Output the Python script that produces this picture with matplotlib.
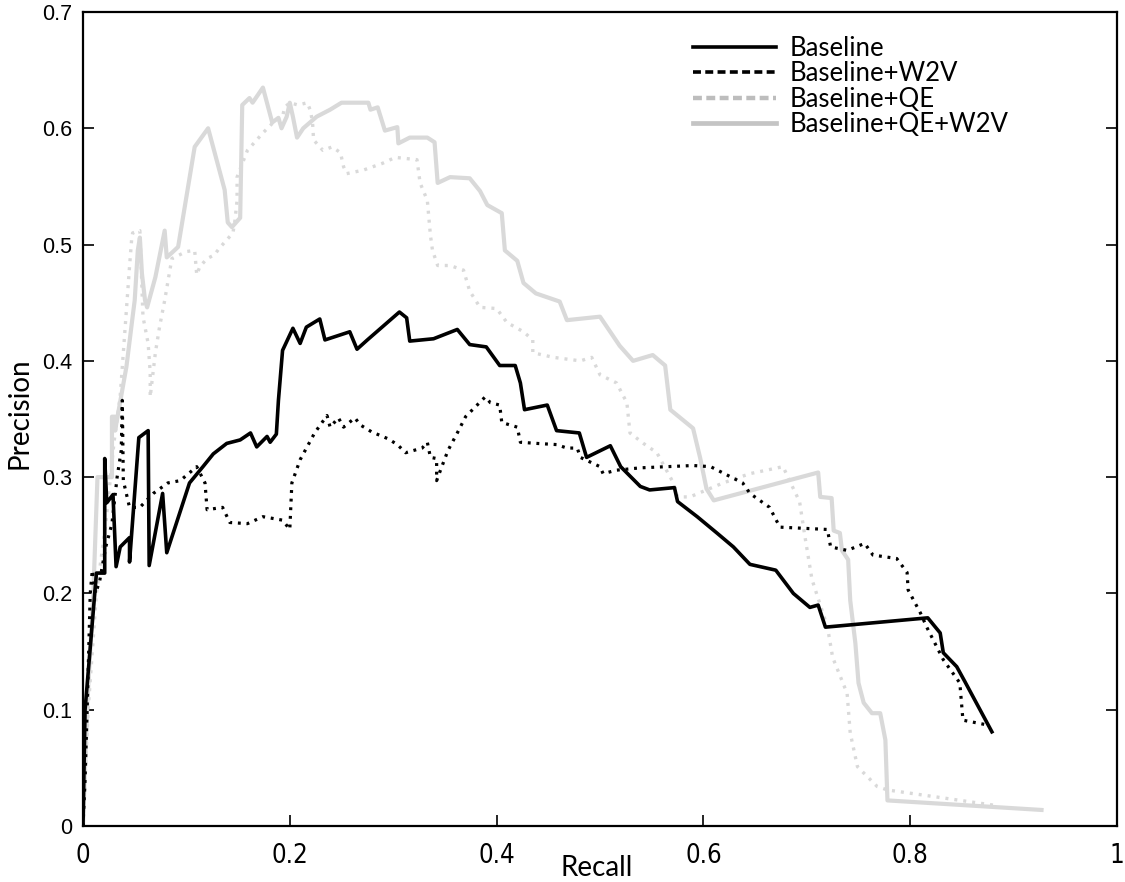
import matplotlib
matplotlib.use("Agg")
import matplotlib.pyplot as plt
from matplotlib.lines import Line2D

# ---------------- data ----------------
baseline_x = [0, 0.002, 0.013, 0.021, 0.021, 0.023, 0.029, 0.032, 0.036, 0.045, 0.045, 0.054, 0.063,
              0.064, 0.077, 0.081, 0.103, 0.116, 0.126, 0.139, 0.152, 0.162, 0.168, 0.178, 0.181, 0.187,
              0.189, 0.193, 0.203, 0.21, 0.216, 0.229, 0.234, 0.258, 0.265, 0.275, 0.306, 0.313, 0.316,
              0.339, 0.362, 0.374, 0.39, 0.403, 0.418, 0.423, 0.427, 0.449, 0.458, 0.48, 0.487, 0.51,
              0.52, 0.539, 0.548, 0.572, 0.575, 0.594, 0.613, 0.629, 0.645, 0.67, 0.687, 0.703, 0.711,
              0.718, 0.817, 0.829, 0.832, 0.845, 0.853, 0.879]
baseline_y = [0, 0.1, 0.2175, 0.2175, 0.316, 0.278, 0.285, 0.223, 0.24, 0.248, 0.227, 0.334, 0.34,
              0.224, 0.286, 0.235, 0.295, 0.309, 0.32, 0.329, 0.332, 0.338, 0.326, 0.335, 0.33, 0.337,
              0.366, 0.409, 0.428, 0.415, 0.429, 0.436, 0.418, 0.425, 0.41, 0.418, 0.442, 0.437, 0.417,
              0.419, 0.427, 0.414, 0.412, 0.396, 0.396, 0.381, 0.358, 0.362, 0.34, 0.338, 0.317, 0.327,
              0.309, 0.292, 0.289, 0.291, 0.279, 0.266, 0.252, 0.24, 0.225, 0.22, 0.2, 0.188, 0.19,
              0.171, 0.179, 0.166, 0.149, 0.137, 0.124, 0.081]

w2v_x = [0, 0.002, 0.004, 0.007, 0.009, 0.012, 0.016, 0.022, 0.028, 0.033, 0.037, 0.038, 0.039, 0.045,
         0.055, 0.068, 0.082, 0.094, 0.11, 0.118, 0.12, 0.135, 0.142, 0.159, 0.174, 0.193, 0.2, 0.202,
         0.21, 0.224, 0.236, 0.239, 0.247, 0.252, 0.263, 0.268, 0.279, 0.295, 0.304, 0.312, 0.328,
         0.333, 0.336, 0.342, 0.342, 0.347, 0.353, 0.362, 0.37, 0.389, 0.394, 0.403, 0.405, 0.42,
         0.423, 0.439, 0.458, 0.468, 0.478, 0.481, 0.5, 0.503, 0.516, 0.539, 0.59, 0.607, 0.638,
         0.645, 0.664, 0.674, 0.72, 0.723, 0.739, 0.756, 0.764, 0.787, 0.797, 0.798, 0.81, 0.816,
         0.832, 0.848, 0.851, 0.874]
w2v_y = [0, 0.04, 0.1, 0.2, 0.22, 0.2, 0.21, 0.24, 0.26, 0.3, 0.323, 0.366, 0.297, 0.274,
         0.274, 0.286, 0.295, 0.297, 0.309, 0.295, 0.272, 0.274, 0.261, 0.26, 0.266, 0.263, 0.255, 0.295,
         0.315, 0.338, 0.353, 0.343, 0.351, 0.343, 0.351, 0.345, 0.339, 0.333, 0.328, 0.321, 0.325,
         0.33, 0.317, 0.316, 0.297, 0.309, 0.323, 0.338, 0.352, 0.369, 0.364, 0.362, 0.347, 0.343,
         0.33, 0.329, 0.328, 0.325, 0.325, 0.317, 0.309, 0.303, 0.306, 0.308, 0.31, 0.309, 0.295,
         0.286, 0.274, 0.257, 0.255, 0.24, 0.237, 0.243, 0.233, 0.23, 0.218, 0.203, 0.183, 0.171,
         0.143, 0.123, 0.091, 0.087]

qe_x = [0, 0.005, 0.013, 0.022, 0.03, 0.036, 0.039, 0.042, 0.045, 0.047, 0.048, 0.055, 0.058, 0.063,
        0.065, 0.065, 0.07, 0.074, 0.079, 0.084, 0.086, 0.1, 0.108, 0.11, 0.113, 0.12, 0.127, 0.132,
        0.139, 0.145, 0.147, 0.149, 0.149, 0.159, 0.165, 0.174, 0.184, 0.193, 0.195, 0.2, 0.208, 0.217,
        0.22, 0.222, 0.223, 0.232, 0.241, 0.249, 0.252, 0.255, 0.271, 0.29, 0.302, 0.323, 0.326,
        0.333, 0.336, 0.338, 0.343, 0.355, 0.368, 0.374, 0.384, 0.4, 0.41, 0.426, 0.435, 0.435,
        0.455, 0.481, 0.492, 0.5, 0.516, 0.526, 0.529, 0.542, 0.555, 0.571, 0.575, 0.587, 0.619,
        0.645, 0.677, 0.686, 0.693, 0.698, 0.705, 0.72, 0.725, 0.739, 0.742, 0.749, 0.768, 0.778, 0.88]
qe_y = [0, 0.1, 0.2, 0.26, 0.33, 0.37, 0.407, 0.444, 0.481, 0.504, 0.51, 0.512, 0.438, 0.415,
        0.39, 0.369, 0.407, 0.429, 0.452, 0.478, 0.488, 0.494, 0.495, 0.474, 0.481, 0.488, 0.491, 0.497,
        0.504, 0.51, 0.521, 0.538, 0.558, 0.581, 0.587, 0.596, 0.605, 0.61, 0.618, 0.622, 0.62, 0.622,
        0.615, 0.605, 0.59, 0.581, 0.584, 0.579, 0.567, 0.561, 0.564, 0.57, 0.575, 0.573, 0.553,
        0.538, 0.508, 0.495, 0.482, 0.482, 0.478, 0.46, 0.446, 0.445, 0.433, 0.425, 0.418, 0.407,
        0.403, 0.4, 0.403, 0.388, 0.381, 0.364, 0.338, 0.329, 0.321, 0.295, 0.283, 0.283, 0.295,
        0.303, 0.309, 0.292, 0.279, 0.25, 0.212, 0.171, 0.145, 0.114, 0.08, 0.051, 0.034, 0.031, 0.018]

qew2v_x = [0, 0.004, 0.01, 0.014, 0.028, 0.028, 0.031, 0.031, 0.042, 0.048, 0.05, 0.053, 0.055, 0.057,
           0.06, 0.062, 0.07, 0.079, 0.081, 0.086, 0.092, 0.108, 0.121, 0.137, 0.14, 0.144, 0.152,
           0.154, 0.161, 0.164, 0.174, 0.183, 0.189, 0.192, 0.197, 0.2, 0.203, 0.207, 0.213, 0.226,
           0.239, 0.25, 0.276, 0.278, 0.285, 0.292, 0.304, 0.305, 0.316, 0.333, 0.34, 0.343, 0.355,
           0.374, 0.384, 0.391, 0.405, 0.408, 0.42, 0.426, 0.438, 0.461, 0.468, 0.5, 0.519, 0.532,
           0.551, 0.563, 0.568, 0.59, 0.597, 0.603, 0.61, 0.711, 0.713, 0.724, 0.726, 0.732, 0.734,
           0.74, 0.742, 0.747, 0.75, 0.755, 0.763, 0.771, 0.776, 0.778, 0.927]
qew2v_y = [0, 0.102, 0.2, 0.3, 0.3, 0.352, 0.352, 0.34, 0.395, 0.438, 0.452, 0.495, 0.506, 0.475,
           0.452, 0.446, 0.472, 0.512, 0.489, 0.493, 0.498, 0.584, 0.6, 0.547, 0.519, 0.515, 0.523,
           0.62, 0.626, 0.622, 0.635, 0.605, 0.609, 0.6, 0.61, 0.622, 0.61, 0.592, 0.6, 0.61,
           0.616, 0.622, 0.622, 0.616, 0.618, 0.598, 0.601, 0.587, 0.592, 0.592, 0.588, 0.553, 0.558,
           0.557, 0.546, 0.534, 0.527, 0.495, 0.486, 0.467, 0.458, 0.451, 0.435, 0.438, 0.413, 0.4,
           0.405, 0.396, 0.358, 0.342, 0.316, 0.29, 0.28, 0.304, 0.283, 0.282, 0.254, 0.252, 0.237,
           0.229, 0.194, 0.157, 0.123, 0.106, 0.097, 0.097, 0.074, 0.022, 0.0138]

labels = ["Baseline", "Baseline+W2V", "Baseline+QE", "Baseline+QE+W2V"]
x_ticks = [0, 0.2, 0.4, 0.6, 0.8, 1]
x_ticklabels = ["0", "0.2", "0.4", "0.6", "0.8", "1"]
y_ticks = [0, 0.1, 0.2, 0.3, 0.4, 0.5, 0.6, 0.7]
y_ticklabels = ["0", "0.1", "0.2", "0.3", "0.4", "0.5", "0.6", "0.7"]

# ---------------- plot ----------------
LIGHT = "#d9d9d9"
fig = plt.figure(figsize=(11.25, 8.82), dpi=100)
ax = fig.add_axes([83/1125, 1-826/882, 1034/1125, 814/882])

dot = (0, (0.9, 1.8))
ax.plot(qew2v_x, qew2v_y, color=LIGHT, lw=3.0)
ax.plot(qe_x, qe_y, color=LIGHT, lw=2.4, linestyle=dot)
ax.plot(w2v_x, w2v_y, color="black", lw=2.3, linestyle=dot)
ax.plot(baseline_x, baseline_y, color="black", lw=2.6)

ax.set_xlim(0, 1)
ax.set_ylim(0, 0.7)
ax.set_xticks(x_ticks)
ax.set_xticklabels(x_ticklabels, family=["DejaVu Sans"], stretch="condensed", fontsize=18.5)
ax.set_yticks(y_ticks)
ax.set_yticklabels(y_ticklabels, family=["Liberation Sans", "DejaVu Sans"], fontsize=15.5)
ax.tick_params(direction="in", length=8, width=1.2, top=False, right=True)
ax.tick_params(axis="x", pad=12)
ax.tick_params(axis="y", pad=8)
for s in ax.spines.values():
    s.set_linewidth(1.6)

fig.text(597/1125, 1-868/882, "Recall", family=["Lato", "DejaVu Sans"], fontsize=20,
         ha="center", va="center")
fig.text(20/1125, 1-413/882, "Precision", family=["Lato", "DejaVu Sans"], fontsize=20,
         ha="center", va="center", rotation=90)

handles = [
    Line2D([], [], color="black", lw=2.6),
    Line2D([], [], color="black", lw=2.6, linestyle=(0, (2.2, 1.2))),
    Line2D([], [], color="#bdbdbd", lw=3.2, linestyle=(0, (2.0, 1.0))),
    Line2D([], [], color="#c4c4c4", lw=3.4),
]
ax.legend(handles, labels, loc="upper left", bbox_to_anchor=(0.573, 0.993), frameon=False,
          prop={"family": ["Lato", "DejaVu Sans"], "size": 18.5}, handlelength=3.2,
          handletextpad=0.55, labelspacing=0.02, borderpad=0.2)

fig.savefig("out.png", dpi=100)
